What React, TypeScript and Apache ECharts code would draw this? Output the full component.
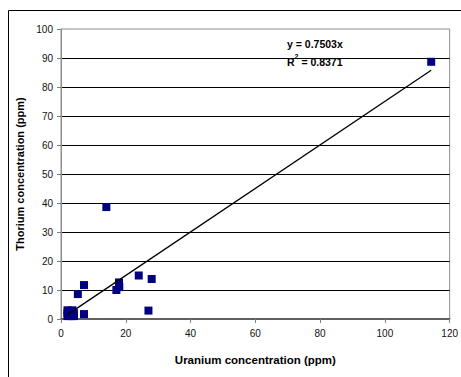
import React, { useEffect, useRef } from "react";
import * as echarts from "echarts";

const uranium = [2, 2, 2.5, 3, 3, 3.5, 4, 4, 2, 5.2, 7.1, 7.1, 14.0, 17.1, 17.9, 18, 24, 28, 27, 114.3];
const thorium = [1, 3, 2, 1, 2.5, 3, 1, 2, 2, 8.6, 11.7, 1.7, 38.6, 10, 12.6, 11, 15, 13.8, 2.9, 88.7];
const slope = 0.7503;
const rSquared = "0.8371";
const xTicks = [0, 20, 40, 60, 80, 100, 120];
const yTicks = [0, 10, 20, 30, 40, 50, 60, 70, 80, 90, 100];

export default function App() {
  const ref = useRef<HTMLDivElement>(null);
  useEffect(() => {
    if (!ref.current) return;
    const chart = echarts.init(ref.current, null, { renderer: "svg" });
    const points = uranium.map((u, i) => [u, thorium[i]]);
    const xMin = Math.min(...uranium);
    const xMax = Math.max(...uranium);
    const font = "Liberation Sans, Arial, sans-serif";
    chart.setOption({
      animation: false,
      backgroundColor: "#fff",
      grid: {
        left: 61,
        top: 29,
        right: 4,
        bottom: 58,
        show: true,
        borderColor: "#8c8c8c",
        borderWidth: 1,
      },
      xAxis: {
        type: "value",
        min: xTicks[0],
        max: xTicks[xTicks.length - 1],
        interval: 20,
        name: "Uranium concentration (ppm)",
        nameLocation: "middle",
        nameGap: 35,
        nameTextStyle: { fontFamily: font, fontWeight: "bold", fontSize: 11.5, color: "#000" },
        axisLine: { show: true, lineStyle: { color: "#404040", width: 1.5 } },
        axisTick: { show: true, inside: false, length: 4, lineStyle: { color: "#808080" } },
        axisLabel: { fontFamily: font, fontSize: 10, color: "#111", margin: 9 },
        splitLine: { show: false },
      },
      yAxis: {
        type: "value",
        min: yTicks[0],
        max: yTicks[yTicks.length - 1],
        interval: 10,
        name: "Thorium concentration (ppm)",
        nameLocation: "middle",
        nameGap: 34,
        nameTextStyle: { fontFamily: font, fontWeight: "bold", fontSize: 11, color: "#000" },
        axisLine: { show: true, lineStyle: { color: "#8c8c8c", width: 1 } },
        axisTick: { show: true, inside: false, length: 4, lineStyle: { color: "#808080" } },
        axisLabel: { fontFamily: font, fontSize: 10, color: "#111", margin: 8 },
        splitLine: { show: true, showMinLine: false, showMaxLine: false, lineStyle: { color: "#000", width: 1 } },
      },
      series: [
        {
          type: "line",
          data: [
            [xMin, slope * xMin],
            [xMax, slope * xMax],
          ],
          symbol: "none",
          lineStyle: { color: "#000", width: 1.3 },
          z: 3,
        },
        {
          type: "scatter",
          data: points,
          symbol: "rect",
          symbolSize: 8,
          itemStyle: { color: "#000080", opacity: 1 },
          z: 2,
        },
      ],
      graphic: [
        {
          type: "rect",
          shape: { x: 8.5, y: 10.5, width: 470, height: 400 },
          style: { fill: "none", stroke: "#000", lineWidth: 1 },
          silent: true,
        },
        {
          type: "text",
          x: 287,
          y: 38,
          style: {
            text: "y = " + slope + "x",
            font: "bold 10.5px " + font,
            fill: "#000",
          },
          z: 10,
        },
        {
          type: "text",
          x: 287,
          y: 53,
          style: {
            text: "{b|R}{s|2}{b| = " + rSquared + "}",
            rich: {
              b: { font: "bold 10.5px " + font, fill: "#000", verticalAlign: "bottom", lineHeight: 14 },
              s: { font: "bold 7px " + font, fill: "#000", verticalAlign: "top", lineHeight: 14 },
            },
          },
          z: 10,
        },
      ],
    });
    return () => chart.dispose();
  }, []);
  return <div ref={ref} style={{ position: "fixed", left: 0, top: 0, width: 461, height: 377 }} />;
}
